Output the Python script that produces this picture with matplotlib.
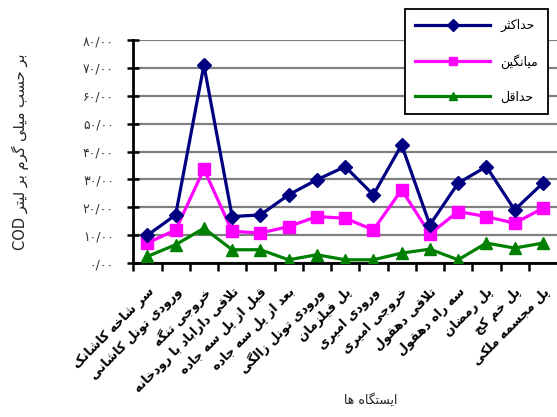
import matplotlib.pyplot as plt

# station names and COD values (mg/l) per station
stations = ["سر شاخه کاشانک", "ورودی تونل کاشانی", "خروجی تنگه",
            "تلاقی داراباد با رودخانه", "قبل از پل سه جاده", "بعد از پل سه جاده",
            "ورودی تونل زالگی", "پل فیلزمان", "ورودی امیری", "خروجی امیری",
            "تلاقی دهقول", "سه راه دهقول", "پل رمضان", "پل خم کج", "پل مجسمه ملکی"]
cod_max = [10.0, 17.3, 71.0, 16.7, 17.3, 24.5, 29.9, 34.6, 24.5, 42.4, 13.7, 28.7, 34.6, 19.1, 28.7]
cod_mean = [7.2, 11.9, 33.7, 11.4, 10.8, 13.1, 16.7, 16.1, 11.9, 26.3, 10.5, 18.5, 16.7, 14.3, 19.7]
cod_min = [2.4, 6.6, 12.5, 4.8, 4.8, 1.2, 3.0, 1.2, 1.2, 3.6, 5.0, 1.2, 7.2, 5.4, 7.2]
series_names = ["حداکثر", "میانگین", "حداقل"]
y_ticks = [0, 10, 20, 30, 40, 50, 60, 70, 80]
y_tick_labels = ["۰/۰۰", "۱۰/۰۰", "۲۰/۰۰", "۳۰/۰۰", "۴۰/۰۰", "۵۰/۰۰", "۶۰/۰۰", "۷۰/۰۰", "۸۰/۰۰"]
y_title = "بر حسب میلی گرم بر لیتر"
x_title = "ایستگاه ها"

# matplotlib does no Arabic shaping, so pick the contextual glyphs by hand
# (isolated, final, initial, medial)
FORMS = {
    'ا': (0xFE8D, 0xFE8E, 0xFE8D, 0xFE8E), 'آ': (0xFE81, 0xFE82, 0xFE81, 0xFE82),
    'ب': (0xFE8F, 0xFE90, 0xFE91, 0xFE92), 'پ': (0xFB56, 0xFB57, 0xFB58, 0xFB59),
    'ت': (0xFE95, 0xFE96, 0xFE97, 0xFE98), 'ث': (0xFE99, 0xFE9A, 0xFE9B, 0xFE9C),
    'ج': (0xFE9D, 0xFE9E, 0xFE9F, 0xFEA0), 'چ': (0xFB7A, 0xFB7B, 0xFB7C, 0xFB7D),
    'ح': (0xFEA1, 0xFEA2, 0xFEA3, 0xFEA4), 'خ': (0xFEA5, 0xFEA6, 0xFEA7, 0xFEA8),
    'د': (0xFEA9, 0xFEAA, 0xFEA9, 0xFEAA), 'ذ': (0xFEAB, 0xFEAC, 0xFEAB, 0xFEAC),
    'ر': (0xFEAD, 0xFEAE, 0xFEAD, 0xFEAE), 'ز': (0xFEAF, 0xFEB0, 0xFEAF, 0xFEB0),
    'ژ': (0xFB8A, 0xFB8B, 0xFB8A, 0xFB8B), 'س': (0xFEB1, 0xFEB2, 0xFEB3, 0xFEB4),
    'ش': (0xFEB5, 0xFEB6, 0xFEB7, 0xFEB8), 'ص': (0xFEB9, 0xFEBA, 0xFEBB, 0xFEBC),
    'ض': (0xFEBD, 0xFEBE, 0xFEBF, 0xFEC0), 'ط': (0xFEC1, 0xFEC2, 0xFEC3, 0xFEC4),
    'ظ': (0xFEC5, 0xFEC6, 0xFEC7, 0xFEC8), 'ع': (0xFEC9, 0xFECA, 0xFECB, 0xFECC),
    'غ': (0xFECD, 0xFECE, 0xFECF, 0xFED0), 'ف': (0xFED1, 0xFED2, 0xFED3, 0xFED4),
    'ق': (0xFED5, 0xFED6, 0xFED7, 0xFED8), 'ک': (0xFB8E, 0xFB8F, 0xFB90, 0xFB91),
    'گ': (0xFB92, 0xFB93, 0xFB94, 0xFB95), 'ل': (0xFEDD, 0xFEDE, 0xFEDF, 0xFEE0),
    'م': (0xFEE1, 0xFEE2, 0xFEE3, 0xFEE4), 'ن': (0xFEE5, 0xFEE6, 0xFEE7, 0xFEE8),
    'ه': (0xFEE9, 0xFEEA, 0xFEEB, 0xFEEC), 'و': (0xFEED, 0xFEEE, 0xFEED, 0xFEEE),
    'ی': (0xFBFC, 0xFBFD, 0xFBFE, 0xFBFF),
}
RIGHT_ONLY = set('اآدذرزژو')
LAM_ALEF = {'ا': (0xFEFB, 0xFEFC), 'آ': (0xFEF5, 0xFEF6)}


def shape(text):
    out = []
    i = 0
    while i < len(text):
        ch = text[i]
        prev = text[i - 1] if i > 0 else ''
        nxt = text[i + 1] if i + 1 < len(text) else ''
        join_prev = prev in FORMS and prev not in RIGHT_ONLY
        if ch not in FORMS:
            out.append(ch)
            i += 1
            continue
        if ch == 'ل' and nxt in LAM_ALEF:
            out.append(chr(LAM_ALEF[nxt][1 if join_prev else 0]))
            i += 2
            continue
        join_next = nxt in FORMS and ch not in RIGHT_ONLY
        iso, fin, ini, med = FORMS[ch]
        if join_prev and join_next:
            c = med
        elif join_prev:
            c = fin
        elif join_next:
            c = ini
        else:
            c = iso
        out.append(chr(c))
        i += 1
    return ''.join(out)[::-1]


plt.rcParams['font.family'] = ['DejaVu Sans']

fig = plt.figure(figsize=(5.57, 4.17), dpi=100)
ax = fig.add_axes([0.2393, 0.369, 0.7607, 0.535])

x = list(range(len(stations)))
ax.plot(x, cod_max, color='#000080', lw=2.3, marker='D', ms=7, label=shape(series_names[0]), zorder=5)
ax.plot(x, cod_mean, color='#FF00FF', lw=2.3, marker='s', ms=8, label=shape(series_names[1]), zorder=4)
ax.plot(x, cod_min, color='#008000', lw=2.3, marker='^', ms=8, label=shape(series_names[2]), zorder=3)

ax.set_xlim(-0.5, len(stations) - 0.5)
ax.set_ylim(0, 80)
ax.set_yticks(y_ticks)
ax.set_yticklabels(y_tick_labels, fontsize=9, color='#333333')
ax.grid(axis='y', color='#808080', lw=1.6)
ax.set_axisbelow(True)

# tick marks sit between categories, labels at the category centres
ax.set_xticks([i - 0.5 for i in x])
ax.set_xticklabels([])
ax.set_xticks(x, minor=True)
ax.set_xticklabels([shape(s) for s in stations], minor=True, rotation=45,
                   ha='right', va='top', rotation_mode='anchor',
                   fontsize=9, fontweight='bold')
ax.tick_params(axis='x', which='minor', length=0, pad=16)
ax.tick_params(axis='x', which='major', direction='out', length=6, width=1.8)
ax.tick_params(axis='y', direction='inout', length=8, width=1.8, pad=10)

for side in ('top', 'right'):
    ax.spines[side].set_visible(False)
for side in ('left', 'bottom'):
    ax.spines[side].set_linewidth(2)

fig.text(0.036, 0.635, "COD " + shape(y_title), rotation=90, ha='center', va='center',
         fontsize=10.5, color='#222222')
fig.text(0.665, 0.04, shape(x_title), ha='center', va='center', fontsize=9, color='#222222')

leg = fig.legend(loc='upper right', bbox_to_anchor=(0.984, 0.978), fontsize=9,
                 frameon=True, fancybox=False, framealpha=1, edgecolor='black',
                 handlelength=6.0, labelspacing=1.75, borderpad=0.8, handletextpad=0.8,
                 borderaxespad=0)
leg.get_frame().set_linewidth(1.3)
for h in leg.legend_handles:
    h.set_markersize(6)

fig.savefig('out.png', dpi=100)
